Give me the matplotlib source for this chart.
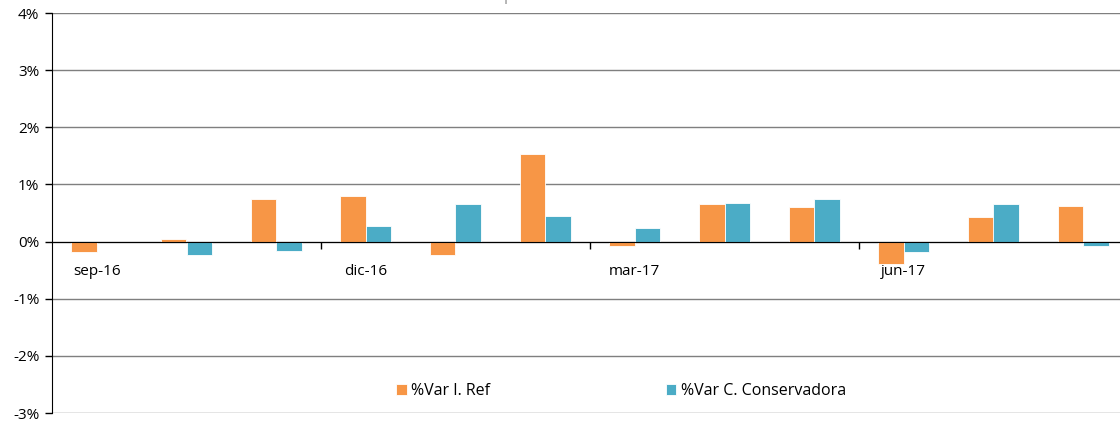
import matplotlib.pyplot as plt
from matplotlib.ticker import FuncFormatter, FixedLocator
import numpy as np

# monthly % variation, sep-16 .. ago-17
meses = ['sep-16', 'oct-16', 'nov-16', 'dic-16', 'ene-17', 'feb-17',
         'mar-17', 'abr-17', 'may-17', 'jun-17', 'jul-17', 'ago-17']
var_ref = [-0.19, 0.05, 0.75, 0.79, -0.23, 1.54, -0.07, 0.65, 0.60, -0.40, 0.43, 0.63]
var_cons = [0.0, -0.24, -0.16, 0.28, 0.65, 0.44, 0.245, 0.67, 0.74, -0.18, 0.65, -0.07]

plt.rcParams['font.family'] = ['Open Sans', 'DejaVu Sans']

naranja = '#F79646'
azul = '#4BACC6'

fig = plt.figure(figsize=(11.2, 4.23), dpi=100)
ax = fig.add_axes([52 / 1120, 10 / 423, 1076 / 1120, 400 / 423])

x = np.arange(len(meses))
w = 0.285
ax.bar(x - w / 2, var_ref, w, color=naranja, edgecolor='white', linewidth=0.6,
       label='%Var I. Ref', zorder=3)
ax.bar(x + w / 2, var_cons, w, color=azul, edgecolor='white', linewidth=0.6,
       label='%Var C. Conservadora', zorder=3)

ax.set_xlim(-0.5, len(meses) - 0.5)
ax.set_ylim(-3, 4)
ax.set_yticks(range(-3, 5))
ax.yaxis.set_major_formatter(FuncFormatter(lambda v, p: f'{int(v)}%'))
ax.yaxis.grid(True, color='#7f7f7f', linewidth=1.0, zorder=0)
ax.set_axisbelow(True)

for s in ['top', 'right']:
    ax.spines[s].set_visible(False)
ax.spines['left'].set_color('black')
ax.spines['bottom'].set_position(('data', 0))
ax.spines['bottom'].set_color('black')
ax.spines['bottom'].set_zorder(4)

# labels every three months, tick marks on category boundaries
ax.xaxis.set_major_locator(FixedLocator([0, 3, 6, 9]))
ax.set_xticklabels([meses[i] for i in [0, 3, 6, 9]])
ax.xaxis.set_minor_locator(FixedLocator([2.5, 5.5, 8.5]))
ax.tick_params(axis='x', which='major', length=0, pad=16, labelsize=11)
ax.tick_params(axis='x', which='minor', length=5, width=1, direction='out')
ax.tick_params(axis='y', length=5, width=1, direction='out', labelsize=11, pad=4)
ax.xaxis.set_zorder(5)

ax.legend(loc='center', bbox_to_anchor=(0.529, 0.055), ncol=2, frameon=False,
          fontsize=11.5, handlelength=0.65, handleheight=0.65, handletextpad=0.3,
          columnspacing=11.0)

# chart title, mostly above the top edge of the figure
fig.text(0.52, 1 + 0.5 / 423, 'Evolución comparada de rentabilidades mensuales',
         ha='center', va='baseline', color='#909090', fontsize=11)

fig.savefig('out.png', dpi=100)
